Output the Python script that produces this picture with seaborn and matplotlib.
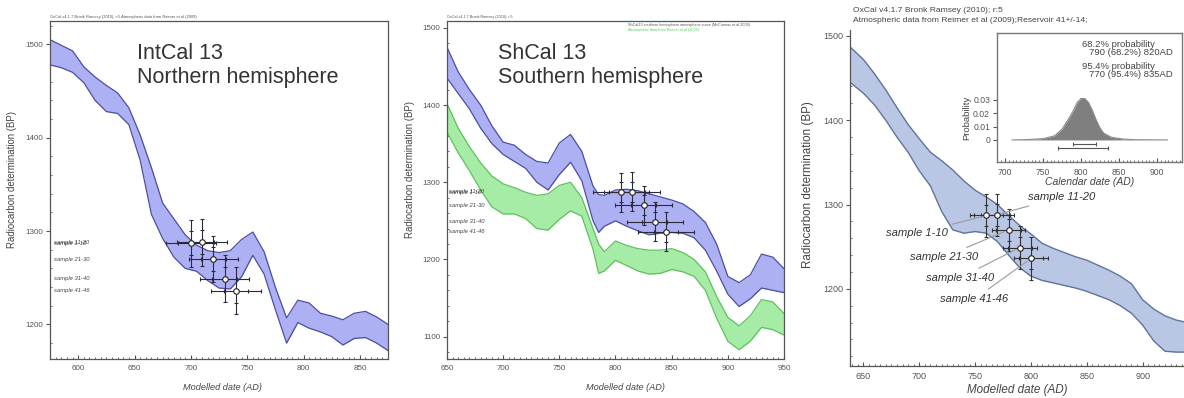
import numpy as np
import pandas as pd
import matplotlib
matplotlib.use("Agg")
import matplotlib.pyplot as plt
import seaborn as sns
from matplotlib.ticker import MultipleLocator

# ---------------- data ----------------
# Panel 1: IntCal13 (northern hemisphere) band
nh_year = [575, 585, 595, 605, 615, 625, 635, 645, 655, 665, 675, 685, 695, 705, 715, 725,
           735, 745, 755, 765, 775, 785, 795, 805, 815, 825, 835, 845, 855, 865, 875]
nh_upper = [1505, 1499, 1493, 1476, 1465, 1456, 1448, 1432, 1403, 1368, 1330, 1313, 1296, 1285, 1279, 1277,
            1279, 1291, 1299, 1278, 1240, 1207, 1226, 1223, 1212, 1209, 1205, 1212, 1214, 1208, 1200]
nh_lower = [1478, 1475, 1470, 1459, 1440, 1428, 1426, 1414, 1376, 1318, 1292, 1272, 1260, 1257, 1247, 1239,
            1238, 1251, 1274, 1254, 1216, 1180, 1202, 1196, 1192, 1187, 1178, 1185, 1186, 1180, 1172]

# Panel 2: ShCal13 (blue = previous curve, green = southern hemisphere)
sh_year = [650, 660, 670, 680, 690, 700, 710, 720, 730, 740, 750, 760, 770, 780, 785, 790,
           800, 810, 820, 830, 840, 850, 860, 870, 880, 890, 900, 910, 920, 930, 940, 950]
sh_blue_upper = [1475, 1443, 1420, 1400, 1373, 1352, 1348, 1336, 1327, 1325, 1351, 1362, 1340, 1295, 1284, 1283,
                 1290, 1291, 1289, 1285, 1281, 1277, 1272, 1262, 1248, 1220, 1178, 1170, 1180, 1207, 1203, 1188]
sh_blue_lower = [1435, 1415, 1395, 1370, 1350, 1336, 1327, 1318, 1300, 1290, 1310, 1326, 1302, 1250, 1235, 1243,
                 1250, 1243, 1237, 1232, 1234, 1235, 1234, 1228, 1212, 1185, 1155, 1139, 1149, 1163, 1160, 1157]
sh_green_upper = [1402, 1370, 1346, 1325, 1308, 1298, 1293, 1287, 1283, 1285, 1296, 1300, 1280, 1240, 1220, 1210,
                  1224, 1218, 1214, 1212, 1212, 1214, 1209, 1200, 1184, 1152, 1125, 1114, 1127, 1148, 1145, 1130]
sh_green_lower = [1365, 1338, 1315, 1290, 1268, 1259, 1259, 1253, 1240, 1238, 1252, 1263, 1256, 1213, 1182, 1185,
                  1199, 1192, 1185, 1181, 1182, 1187, 1184, 1178, 1160, 1124, 1094, 1083, 1094, 1112, 1109, 1102]

# Panel 3: OxCal calibration band
ox_year = [638, 650, 660, 670, 680, 690, 700, 710, 720, 730, 740, 750, 760, 770, 780, 790,
           800, 810, 820, 830, 840, 850, 860, 870, 880, 890, 900, 910, 920, 930, 940]
ox_upper = [1487, 1472, 1455, 1436, 1415, 1395, 1378, 1362, 1352, 1341, 1328, 1317, 1309, 1300, 1287, 1275,
            1265, 1254, 1248, 1243, 1238, 1234, 1228, 1222, 1215, 1206, 1187, 1176, 1168, 1163, 1160]
ox_lower = [1445, 1432, 1418, 1400, 1380, 1362, 1340, 1322, 1292, 1270, 1266, 1268, 1266, 1256, 1240, 1225,
            1215, 1210, 1207, 1204, 1201, 1197, 1192, 1187, 1180, 1171, 1157, 1138, 1126, 1125, 1125]

# Samples
sample_labels = ["sample 1-10", "sample 11-20", "sample 21-30", "sample 31-40", "sample 41-46"]
sample_c14 = [1287, 1288, 1270, 1249, 1236]
sample_c14_err = [25, 25, 25, 25, 25]
sample_c14_err68 = [13, 13, 13, 13, 13]
nh_sample_date = [700, 710, 720, 730, 740]
nh_sample_date_err = [22, 22, 22, 22, 22]
sh_sample_date = [805, 815, 825, 835, 845]
sh_sample_date_err = [25, 25, 25, 25, 25]
ox_sample_date = [760, 770, 780, 790, 800]
ox_sample_date_err = [15, 15, 15, 15, 15]
date_err68 = [11, 11, 11, 11, 11]

# Inset: calendar date probability
prob_date = [709, 730, 750, 765, 775, 785, 790, 795, 800, 805, 810, 815, 820, 825, 830, 840, 855, 870, 914]
prob_value = [0.0, 0.0003, 0.001, 0.003, 0.008, 0.017, 0.022, 0.028, 0.031, 0.031, 0.028, 0.022, 0.015,
              0.009, 0.005, 0.002, 0.0007, 0.0002, 0.0]
range68 = [790, 820]
range95 = [770, 835]

# ---------------- style ----------------
sns.set_theme(style="white")
plt.rcParams['font.family'] = ['Liberation Sans', 'DejaVu Sans']
plt.rcParams['axes.edgecolor'] = '#555555'

fig = plt.figure(figsize=(11.84, 3.98), dpi=100)

BLUE_FILL = '#aeb0f4'
BLUE_EDGE = '#4a4fa0'
GREEN_FILL = '#a6eca6'
GREEN_EDGE = '#5cc25c'
OX_FILL = '#b9c7e4'
OX_EDGE = '#5f739c'
TXT = '#333333'


def band(ax, x, lo, hi, fill, edge, lw=0.9):
    ax.fill_between(x, lo, hi, color=fill, lw=0, zorder=1)
    sns.lineplot(x=x, y=hi, ax=ax, color=edge, lw=lw, zorder=2, legend=False)
    sns.lineplot(x=x, y=lo, ax=ax, color=edge, lw=lw, zorder=2, legend=False)


def samples(ax, dates, derr, ecolor='#2a2a3a'):
    ax.errorbar(dates, sample_c14, xerr=derr, yerr=sample_c14_err, fmt='none', ecolor=ecolor,
                elinewidth=0.8, capsize=1.6, capthick=0.8, zorder=4)
    ax.errorbar(dates, sample_c14, xerr=date_err68, yerr=sample_c14_err68, fmt='none', ecolor=ecolor,
                elinewidth=0, capsize=1.2, capthick=0.8, zorder=4)
    sns.scatterplot(x=dates, y=sample_c14, ax=ax, s=16, color='white', edgecolor='#222222',
                    linewidth=0.8, zorder=5, legend=False)


def style_axes(ax, fs, box=True):
    ax.tick_params(axis='x', which='major', direction='in', length=3, width=0.8, colors='#555555',
                   labelsize=fs, labelcolor='#555555', pad=4)
    ax.tick_params(axis='x', which='minor', direction='in', length=1.5, width=0.6, colors='#555555')
    ax.tick_params(axis='y', which='major', direction='out', length=3, width=0.8, colors='#555555',
                   labelsize=fs, labelcolor='#555555', pad=2)
    ax.tick_params(axis='y', which='minor', direction='in', length=1.5, width=0.6, colors='#555555')
    ax.tick_params(bottom=True, left=True, which='both')
    for s in ax.spines.values():
        s.set_linewidth(0.9)
        s.set_color('#555555')
    if not box:
        ax.spines['top'].set_visible(False)
        ax.spines['right'].set_visible(False)
    ax.grid(False)
    ax.set_facecolor('white')


# ---------------- Panel 1 ----------------
ax1 = fig.add_axes([50 / 1184, 1 - 359 / 398, 338 / 1184, 338 / 398])
band(ax1, nh_year, nh_lower, nh_upper, BLUE_FILL, BLUE_EDGE)
samples(ax1, nh_sample_date, nh_sample_date_err)
for lab, c in zip(sample_labels, sample_c14):
    ax1.text(578.5, c, lab, fontsize=4.2, style='italic', va='center', color='#444444')
ax1.set_xlim(575, 875)
ax1.set_ylim(1163, 1525)
ax1.set_xticks([600, 650, 700, 750, 800, 850])
ax1.set_yticks([1200, 1300, 1400, 1500])
ax1.xaxis.set_minor_locator(MultipleLocator(5))
ax1.yaxis.set_minor_locator(MultipleLocator(20))
style_axes(ax1, 5.8)
ax1.set_xlabel("Modelled date (AD)", fontsize=6.6, style='italic', color='#444444')
ax1.set_ylabel("Radiocarbon determination (BP)", fontsize=6.9, color='#444444')
ax1.xaxis.set_label_coords(0.51, -0.085)
ax1.xaxis.label.set_va('center')
ax1.yaxis.set_label_coords(-0.113, 0.53)
ax1.yaxis.label.set_va('center')
fig.text(50 / 1184, 1 - 17 / 398,
         "OxCal v4.1.7 Bronk Ramsey (2010); r:5 Atmospheric data from Reimer et al (2009)",
         fontsize=2.85, color='#555555', va='center')
fig.text(137 / 1184, 1 - 59 / 398, "IntCal 13", fontsize=15.5, color=TXT, va='baseline')
fig.text(137 / 1184, 1 - 83 / 398, "Northern hemisphere", fontsize=15.5, color=TXT, va='baseline')

# ---------------- Panel 2 ----------------
ax2 = fig.add_axes([447 / 1184, 1 - 359 / 398, 337 / 1184, 338 / 398])
band(ax2, sh_year, sh_green_lower, sh_green_upper, GREEN_FILL, GREEN_EDGE)
band(ax2, sh_year, sh_blue_lower, sh_blue_upper, BLUE_FILL, BLUE_EDGE)
samples(ax2, sh_sample_date, sh_sample_date_err)
for lab, c in zip(sample_labels, sample_c14):
    ax2.text(652, c, lab, fontsize=4.2, style='italic', va='center', color='#444444')
ax2.set_xlim(650, 950)
ax2.set_ylim(1071, 1509)
ax2.set_xticks([650, 700, 750, 800, 850, 900, 950])
ax2.set_yticks([1100, 1200, 1300, 1400, 1500])
ax2.xaxis.set_minor_locator(MultipleLocator(5))
ax2.yaxis.set_minor_locator(MultipleLocator(20))
style_axes(ax2, 5.8)
ax2.set_xlabel("Modelled date (AD)", fontsize=6.6, style='italic', color='#444444')
ax2.set_ylabel("Radiocarbon determination (BP)", fontsize=6.9, color='#444444')
ax2.xaxis.set_label_coords(0.53, -0.085)
ax2.xaxis.label.set_va('center')
ax2.yaxis.set_label_coords(-0.11, 0.56)
ax2.yaxis.label.set_va('center')
fig.text(447 / 1184, 1 - 17 / 398, "OxCal v4.1.7 Bronk Ramsey (2010); r:5",
         fontsize=2.7, color='#555555', va='center')
fig.text(628 / 1184, 1 - 25 / 398, "ShCal13 southern hemisphere atmospheric curve (McCormac et al 2004)",
         fontsize=2.7, color='#555555', va='center')
fig.text(628 / 1184, 1 - 30 / 398, "Atmospheric data from Reimer et al (2009)",
         fontsize=2.7, color='#55cc55', va='center')
fig.text(498 / 1184, 1 - 59 / 398, "ShCal 13", fontsize=15.5, color=TXT, va='baseline')
fig.text(498 / 1184, 1 - 83 / 398, "Southern hemisphere", fontsize=15.5, color=TXT, va='baseline')

# ---------------- Panel 3 ----------------
ax3 = fig.add_axes([850 / 1184, 1 - 366 / 398, 334 / 1184, 336 / 398])
band(ax3, ox_year, ox_lower, ox_upper, OX_FILL, OX_EDGE, lw=1.0)
samples(ax3, ox_sample_date, ox_sample_date_err, ecolor='#333333')
ax3.set_xlim(638, 937)
ax3.set_ylim(1108.5, 1507)
ax3.set_xticks([650, 700, 750, 800, 850, 900])
ax3.set_yticks([1200, 1300, 1400, 1500])
ax3.xaxis.set_minor_locator(MultipleLocator(5))
ax3.yaxis.set_minor_locator(MultipleLocator(20))
style_axes(ax3, 6.5, box=False)
ax3.set_xlabel("Modelled date (AD)", fontsize=8.4, style='italic', color='#444444')
ax3.set_ylabel("Radiocarbon determination (BP)", fontsize=8.4, color='#444444')
ax3.xaxis.set_label_coords(0.5, -0.07)
ax3.xaxis.label.set_va('center')
ax3.yaxis.set_label_coords(-0.125, 0.54)
ax3.yaxis.label.set_va('center')

# label positions (data coordinates) for annotations
ann_text = [(726, 1266, 'right'), (797, 1309, 'left'), (753, 1238, 'right'),
            (767, 1213, 'right'), (780, 1188, 'right')]
for lab, d, c, (tx, ty, ha) in zip(sample_labels, ox_sample_date, sample_c14, ann_text):
    ax3.annotate(lab, xy=(d, c), xytext=(tx, ty), ha=ha, va='center', fontsize=8.1,
                 style='italic', color='#333333', zorder=6,
                 arrowprops=dict(arrowstyle='-', color='#9a9a9a', lw=0.8, shrinkA=2, shrinkB=3))

fig.text(853 / 1184, 1 - 10 / 398, "OxCal v4.1.7 Bronk Ramsey (2010); r:5",
         fontsize=6.1, color='#444444', va='center')
fig.text(853 / 1184, 1 - 21 / 398, "Atmospheric data from Reimer et al (2009);Reservoir 41+/-14;",
         fontsize=6.1, color='#444444', va='center')

# ---------------- Inset ----------------
axi = fig.add_axes([997 / 1184, 1 - 162 / 398, 185 / 1184, 129 / 398])
axi.fill_between(prob_date, 0, prob_value, color='#7f7f7f', lw=0, zorder=2)
sns.lineplot(x=prob_date, y=prob_value, ax=axi, color='#8a8a8a', lw=0.8, zorder=3, legend=False)
for rng, yy in ((range68, -0.003), (range95, -0.006)):
    mid = (rng[0] + rng[1]) / 2
    axi.errorbar([mid], [yy], xerr=[(rng[1] - rng[0]) / 2], fmt='none', ecolor='#555555',
                 elinewidth=0.8, capsize=1.5, capthick=0.8)
axi.set_xlim(689.5, 933)
axi.set_ylim(-0.0165, 0.080)
axi.set_xticks([700, 750, 800, 850, 900])
axi.set_yticks([0, 0.01, 0.02, 0.03])
axi.set_yticklabels(["0", "0.01", "0.02", "0.03"])
axi.xaxis.set_minor_locator(MultipleLocator(5))
style_axes(axi, 6.2)
axi.tick_params(axis='y', which='minor', length=0)
for s in axi.spines.values():
    s.set_color('#777777')
    s.set_linewidth(1.0)
axi.set_xlabel("Calendar date (AD)", fontsize=7.5, style='italic', color='#444444', labelpad=0)
axi.set_ylabel("Probability", fontsize=6.8, color='#444444')
axi.yaxis.set_label_coords(-0.162, 0.34)
axi.yaxis.label.set_va('center')
axi.text(801, 0.0714, "68.2% probability", fontsize=6.8, color='#444444', va='center', ha='left')
axi.text(921, 0.0654, "790 (68.2%) 820AD", fontsize=6.8, color='#444444', va='center', ha='right')
axi.text(801, 0.0549, "95.4% probability", fontsize=6.8, color='#444444', va='center', ha='left')
axi.text(921, 0.0489, "770 (95.4%) 835AD", fontsize=6.8, color='#444444', va='center', ha='right')

fig.savefig("out.png", dpi=100, facecolor='white')
